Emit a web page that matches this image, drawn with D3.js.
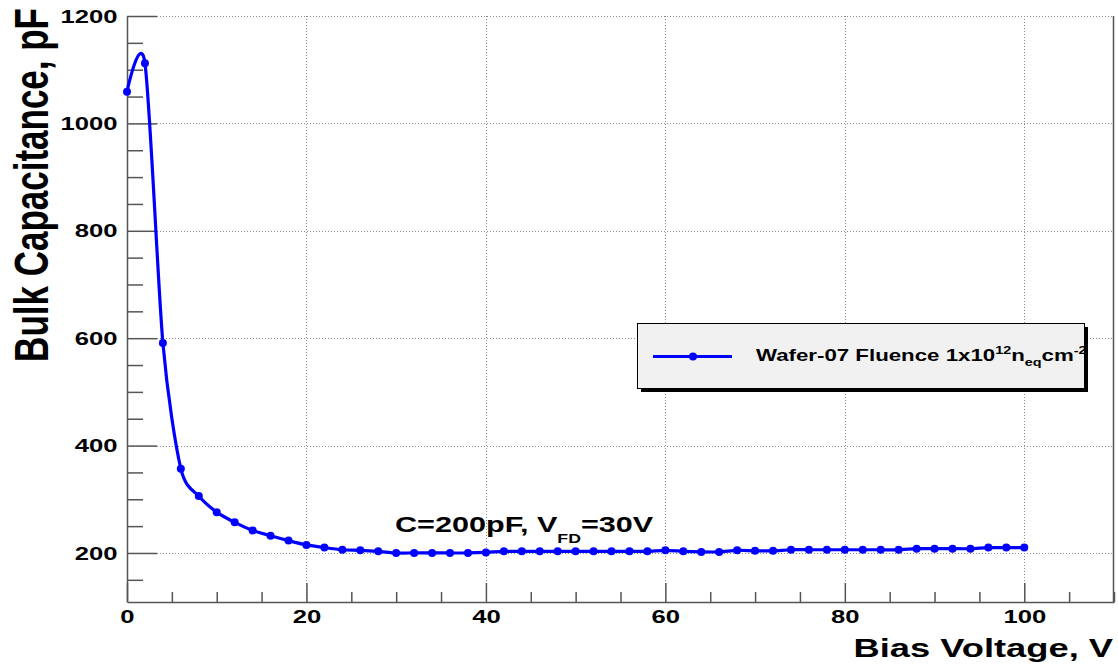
<!DOCTYPE html>
<html>
<head>
<meta charset="utf-8">
<script src="https://cdn.jsdelivr.net/npm/d3@7"></script>
<style>
  body { margin: 0; background: #fff; }
  text { font-family: "Liberation Sans", Arial, Helvetica, sans-serif; font-weight: bold; fill: #000; }
</style>
</head>
<body>
<svg id="chart" width="1118" height="666"></svg>
<script>
// bias voltage (V) and bulk capacitance (pF)
const voltage = [0, 2, 4, 6, 8, 10, 12, 14, 16, 18, 20, 22, 24, 26, 28, 30, 32, 34, 36, 38,
  40, 42, 44, 46, 48, 50, 52, 54, 56, 58, 60, 62, 64, 66, 68, 70, 72, 74, 76, 78,
  80, 82, 84, 86, 88, 90, 92, 94, 96, 98, 100];
const capacitance = [1059, 1112, 591, 357, 306, 276, 257, 242, 232, 223, 215, 210, 206, 205, 203, 200, 200, 200, 200, 200,
  201, 203, 203, 203, 203, 203, 203, 203, 203, 203, 205, 203, 202, 202, 205, 204, 204, 206, 206, 206,
  206, 206, 206, 206, 208, 208, 208, 208, 210, 210, 210];

const xMajor = [0, 20, 40, 60, 80, 100];
const yMajor = [200, 400, 600, 800, 1000, 1200];

const seriesName = "Wafer-07 Fluence 1x10";
const annotation = "C=200pF, V";

const svg = d3.select("#chart");
const stretch = 1.35; // the original picture is wide-stretched

const x = d3.scaleLinear().domain([0, 110]).range([127, 1114]);
const y = d3.scaleLinear().domain([108.7, 1200]).range([602, 16]);

const xMinor = d3.range(0, 110.1, 5).filter(v => v % 20 !== 0);
const yMinor = d3.range(150, 1200, 50).filter(v => v % 200 !== 0);

// grid
const grid = svg.append("g")
  .attr("stroke", "#8a8a8a")
  .attr("stroke-width", 1)
  .attr("stroke-dasharray", "1,2");
grid.selectAll(".gx").data(xMajor.filter(v => v > 0)).join("line")
  .attr("x1", d => Math.round(x(d)) + 0.5).attr("x2", d => Math.round(x(d)) + 0.5)
  .attr("y1", y.range()[1]).attr("y2", y.range()[0]);
grid.selectAll(".gy").data(yMajor).join("line")
  .attr("y1", d => Math.round(y(d)) + 0.5).attr("y2", d => Math.round(y(d)) + 0.5)
  .attr("x1", x.range()[0]).attr("x2", x.range()[1]);

// right frame edge
svg.append("line")
  .attr("x1", x.range()[1] - 0.5).attr("x2", x.range()[1] - 0.5)
  .attr("y1", y.range()[1]).attr("y2", y.range()[0])
  .attr("stroke", "#555").attr("stroke-width", 1.5);

// x axis
svg.append("g")
  .attr("transform", "translate(0," + y.range()[0] + ")")
  .call(d3.axisBottom(x).tickValues(xMajor).tickSize(-19).tickSizeOuter(0).tickPadding(8).tickFormat(d3.format("d")));
svg.append("g")
  .attr("transform", "translate(0," + y.range()[0] + ")")
  .call(d3.axisBottom(x).tickValues(xMinor).tickSize(-10).tickSizeOuter(0).tickFormat(""))
  .call(g => g.select(".domain").remove());

// y axis
svg.append("g")
  .attr("transform", "translate(" + x.range()[0] + ",0)")
  .call(d3.axisLeft(y).tickValues(yMajor).tickSize(-30).tickSizeOuter(0).tickPadding(7).tickFormat(d3.format("d")));
svg.append("g")
  .attr("transform", "translate(" + x.range()[0] + ",0)")
  .call(d3.axisLeft(y).tickValues(yMinor).tickSize(-16).tickSizeOuter(0).tickFormat(""))
  .call(g => g.select(".domain").remove());

svg.selectAll(".domain, .tick line").attr("stroke", "#555").attr("stroke-width", 1.5);
svg.selectAll(".tick text")
  .attr("fill", "#000")
  .style("font-size", "19px")
  .style("font-family", "'Liberation Sans', Arial, sans-serif")
  .style("font-weight", "bold")
  .attr("transform", "scale(" + stretch + ",1)");

// axis titles
svg.append("text")
  .attr("transform", "translate(1113,657) scale(1.37,1)")
  .attr("text-anchor", "end")
  .style("font-size", "26.5px")
  .text("Bias Voltage, V");

svg.append("text")
  .attr("transform", "translate(48,8) scale(1.36,1) rotate(-90)")
  .attr("text-anchor", "end")
  .style("font-size", "35px")
  .text("Bulk Capacitance, pF");

// data curve (smoothed like ROOT's "C" option)
const pts = voltage.map((v, i) => [v, capacitance[i]]);
const line = d3.line()
  .x(d => x(d[0]))
  .y(d => y(d[1]))
  .curve(d3.curveCardinal.tension(0.2));

svg.append("path")
  .datum(pts)
  .attr("fill", "none")
  .attr("stroke", "#0000ff")
  .attr("stroke-width", 3.2)
  .attr("d", line);

svg.append("g").selectAll("circle").data(pts).join("circle")
  .attr("cx", d => x(d[0]))
  .attr("cy", d => y(d[1]))
  .attr("r", 4)
  .attr("fill", "#0000ff");

// annotation
const ann = svg.append("text")
  .attr("transform", "translate(395,532) scale(1.36,1)")
  .style("font-size", "22.5px");
ann.append("tspan").text(annotation);
ann.append("tspan").attr("dy", 11).style("font-size", "13px").text("FD");
ann.append("tspan").attr("dy", -11).text("=30V");

// legend
const lg = { x: 637, y: 323, w: 447, h: 65 };
svg.append("defs").append("clipPath").attr("id", "lgclip")
  .append("rect").attr("x", lg.x).attr("y", lg.y).attr("width", lg.w).attr("height", lg.h);
svg.append("rect")
  .attr("x", lg.x + 4).attr("y", lg.y + 4).attr("width", lg.w).attr("height", lg.h)
  .attr("fill", "#000");
svg.append("rect")
  .attr("x", lg.x + 0.5).attr("y", lg.y + 0.5).attr("width", lg.w).attr("height", lg.h)
  .attr("fill", "#f1f1f1").attr("stroke", "#000").attr("stroke-width", 1);
svg.append("line")
  .attr("x1", 653).attr("x2", 732).attr("y1", 356.5).attr("y2", 356.5)
  .attr("stroke", "#0000ff").attr("stroke-width", 3);
svg.append("circle").attr("cx", 693).attr("cy", 356.5).attr("r", 4).attr("fill", "#0000ff");

const lt = svg.append("g").attr("clip-path", "url(#lgclip)")
  .append("text")
  .attr("transform", "translate(756,361) scale(1.31,1)")
  .style("font-size", "17px");
lt.append("tspan").text(seriesName);
lt.append("tspan").attr("dy", -7).style("font-size", "11px").text("12");
lt.append("tspan").attr("dy", 7).text("n");
lt.append("tspan").attr("dy", 5).style("font-size", "11px").text("eq");
lt.append("tspan").attr("dy", -5).text("cm");
lt.append("tspan").attr("dy", -7).style("font-size", "11px").text("-2");
</script>
</body>
</html>
